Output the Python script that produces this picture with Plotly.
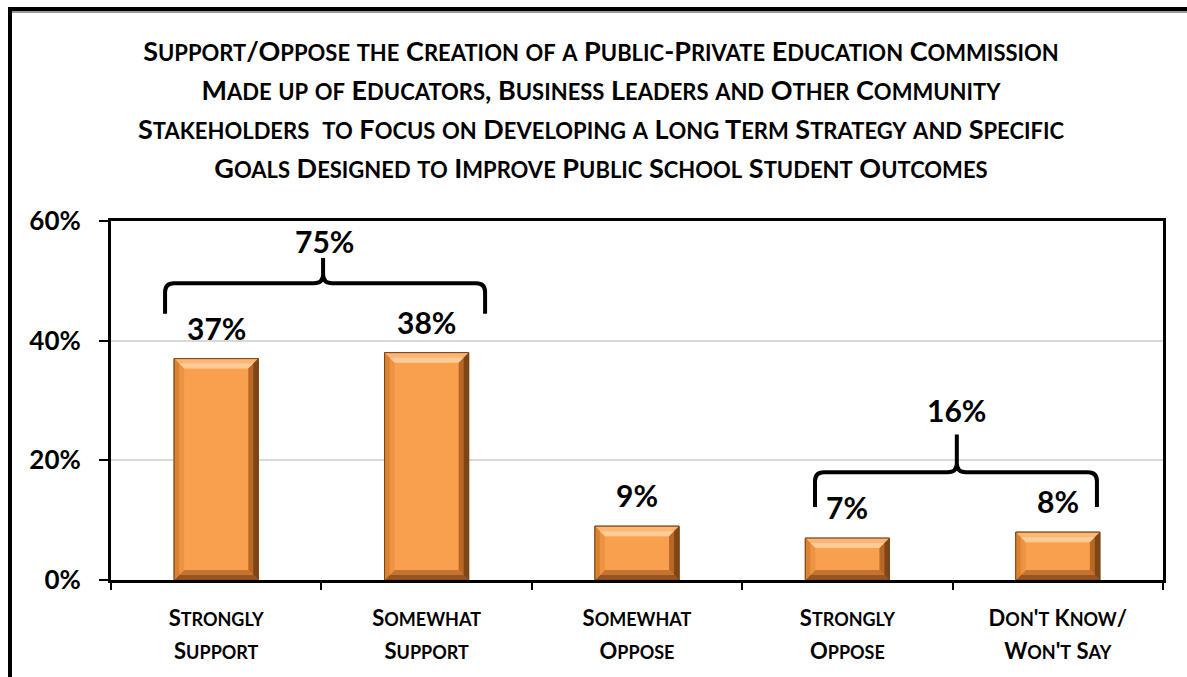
import plotly.graph_objects as go

# ---- data ----
categories = ["Strongly Support", "Somewhat Support", "Somewhat Oppose",
              "Strongly Oppose", "Don't Know/ Won't Say"]
tick_text = ["Strongly<br>Support", "Somewhat<br>Support", "Somewhat<br>Oppose",
             "Strongly<br>Oppose", "Don't Know/<br>Won't Say"]
values = [37, 38, 9, 7, 8]
group_members = [[0, 1], [3, 4]]
group_totals = [75, 16]
y_ticks = [0, 20, 40, 60]

title_lines = [
    "Support/Oppose the Creation of a Public-Private Education Commission",
    "Made up of Educators, Business Leaders and Other Community",
    "Stakeholders  to Focus on Developing a Long Term Strategy and Specific",
    "Goals Designed to Improve Public School Student Outcomes",
]

FONT = "Lato"
FACE = "#F9A04E"


def small_caps(text, big, small):
    """Render text in small caps using sized spans."""
    out, run, run_small = [], "", None
    for ch in text:
        is_small = ch.islower()
        if run_small is not None and is_small != run_small:
            size = small if run_small else big
            out.append(f'<span style="font-size:{size}px">{run}</span>')
            run = ""
        run += ch.upper() if is_small else ch
        run_small = is_small
    if run:
        size = small if run_small else big
        out.append(f'<span style="font-size:{size}px">{run}</span>')
    return "".join(out).replace("  ", " &nbsp;")


def small_caps_lines(text, big, small):
    return "<br>".join(small_caps(t, big, small) for t in text.split("<br>"))


fig = go.Figure()
xs = list(range(len(categories)))
fig.add_trace(go.Bar(
    x=xs, y=values, width=0.4,
    marker=dict(color=FACE, line=dict(color="#7A4418", width=1)),
    hoverinfo="skip", showlegend=False,
))
# invisible trace to carry the boundary-tick axis
fig.add_trace(go.Scatter(x=[-0.5, 4.5], y=[0, 0], xaxis="x2", mode="lines",
                         line=dict(width=0), hoverinfo="skip", showlegend=False))

# ---- bevel facets on each bar ----
PX_X = 1052 / 5.0      # pixels per category unit
PX_Y = 359 / 60.0      # pixels per percent
bx, by = 10 / PX_X, 10 / PX_Y
hx, hy = bx / 2, by / 2
hw = 0.2
shapes = []


def poly(pts, color):
    d = "M " + " L ".join(f"{x},{y}" for x, y in pts) + " Z"
    return dict(type="path", path=d, xref="x", yref="y", fillcolor=color,
                line=dict(width=0), layer="above")


for i, v in zip(xs, values):
    l, r = i - hw, i + hw
    # top facet: bright outer band, softer inner band
    shapes.append(poly([(l, v), (r, v), (r - bx, v - by), (l + bx, v - by)], "#FBB676"))
    shapes.append(poly([(l + hx, v - hy), (r - hx, v - hy), (r - bx, v - by), (l + bx, v - by)], "#FDCB98"))
    # bottom facet
    shapes.append(poly([(l, 0), (r, 0), (r - bx, by), (l + bx, by)], "#C47330"))
    shapes.append(poly([(l, 0), (r, 0), (r - hx, hy), (l + hx, hy)], "#9A5420"))
    # left facet
    shapes.append(poly([(l, 0), (l, v), (l + bx, v - by), (l + bx, by)], "#EC9443"))
    shapes.append(poly([(l, 0), (l, v), (l + hx, v - hy), (l + hx, hy)], "#D9822F"))
    # right facet
    shapes.append(poly([(r, 0), (r, v), (r - bx, v - by), (r - bx, by)], "#B86724"))
    shapes.append(poly([(r, 0), (r, v), (r - hx, v - hy), (r - hx, hy)], "#7E4516"))
    outline = poly([(l, 0), (r, 0), (r, v), (l, v)], "rgba(0,0,0,0)")
    outline["line"] = dict(color="#7A4418", width=1)
    shapes.append(outline)

# ---- braces over grouped bars ----
brace_geom = [
    dict(x0=-0.243, x1=1.278, xm=0.508, y_end=44.5, y_bar=49.6, y_tip=53.8,
         lx=0.517, ly=56.6),
    dict(x0=2.846, x1=4.186, xm=3.52, y_end=12.2, y_bar=18.0, y_tip=24.3,
         lx=3.52, ly=28.4),
]
rx, ry = 9 / PX_X, 9 / PX_Y
annotations = []
for g, total in zip(brace_geom, group_totals):
    x0, x1, xm = g["x0"], g["x1"], g["xm"]
    yb, ye, yt = g["y_bar"], g["y_end"], g["y_tip"]
    d = (f"M {x0},{ye} L {x0},{yb - ry} Q {x0},{yb} {x0 + rx},{yb} "
         f"L {xm - rx},{yb} Q {xm},{yb} {xm},{yb + ry} L {xm},{yt} "
         f"M {xm},{yb + ry} Q {xm},{yb} {xm + rx},{yb} "
         f"L {x1 - rx},{yb} Q {x1},{yb} {x1},{yb - ry} L {x1},{ye}")
    shapes.append(dict(type="path", path=d, xref="x", yref="y",
                       line=dict(color="black", width=4), layer="above"))
    annotations.append(dict(x=g["lx"], y=g["ly"], xref="x", yref="y",
                            text=f"{total}%", showarrow=False,
                            font=dict(family=FONT, size=30, color="black", weight="bold"),
                            yanchor="middle"))

# value labels above bars
for i, v in zip(xs, values):
    annotations.append(dict(x=i, y=v, xref="x", yref="y", text=f"{v}%",
                            showarrow=False, yanchor="middle", yshift=31,
                            font=dict(family=FONT, size=30, color="black", weight="bold")))

# title block
annotations.append(dict(
    x=(601 - 111) / 1052, y=(580 - 109) / 359, xref="paper", yref="paper",
    text="<br>".join(small_caps(t, 27, 22) for t in title_lines),
    showarrow=False, xanchor="center", yanchor="middle", align="center",
    font=dict(family=FONT, size=30, color="black", weight="bold"),
))

# outer frame with a faint shadow under the top edge
shapes.append(dict(type="line", xref="paper", yref="paper",
                   x0=(12 - 111) / 1052, x1=(1230 - 111) / 1052,
                   y0=(580 - 12) / 359, y1=(580 - 12) / 359,
                   line=dict(color="#9A9A9A", width=2), layer="above"))
shapes.append(dict(type="rect", xref="paper", yref="paper",
                   x0=(10 - 111) / 1052, x1=(1230 - 111) / 1052,
                   y0=(580 - 720) / 359, y1=(580 - 9) / 359,
                   line=dict(color="black", width=4), fillcolor="rgba(0,0,0,0)",
                   layer="above"))

fig.update_layout(
    width=1187, height=677,
    margin=dict(l=111, r=24, t=221, b=97),
    paper_bgcolor="white", plot_bgcolor="white",
    bargap=0.6,
    shapes=shapes, annotations=annotations,
    xaxis=dict(range=[-0.5, 4.5], tickvals=xs,
               ticktext=[small_caps_lines(t, 22, 18) for t in tick_text],
               tickfont=dict(family=FONT, size=25, color="black", weight="bold"),
               ticks="", showline=True, linecolor="black", linewidth=3,
               mirror=True, showgrid=False, zeroline=False,
               ticklabelstandoff=13, fixedrange=True),
    xaxis2=dict(range=[-0.5, 4.5], overlaying="x", anchor="y", side="bottom",
                tickvals=[-0.5, 0.5, 1.5, 2.5, 3.5, 4.5], ticks="outside",
                ticklen=9, tickwidth=2, tickcolor="black",
                showticklabels=False, showgrid=False, zeroline=False,
                showline=False),
    yaxis=dict(range=[0, 60], tickvals=y_ticks,
               ticktext=[f"{t}%" for t in y_ticks],
               tickfont=dict(family=FONT, size=26, color="black", weight="bold"),
               ticks="outside", ticklen=9, tickwidth=2, tickcolor="black",
               showline=True, linecolor="black", linewidth=3, mirror=True,
               showgrid=True, gridcolor="#D9D9D9", gridwidth=1.5,
               zeroline=False, ticklabelstandoff=13),
)

fig.write_html("out.html")
